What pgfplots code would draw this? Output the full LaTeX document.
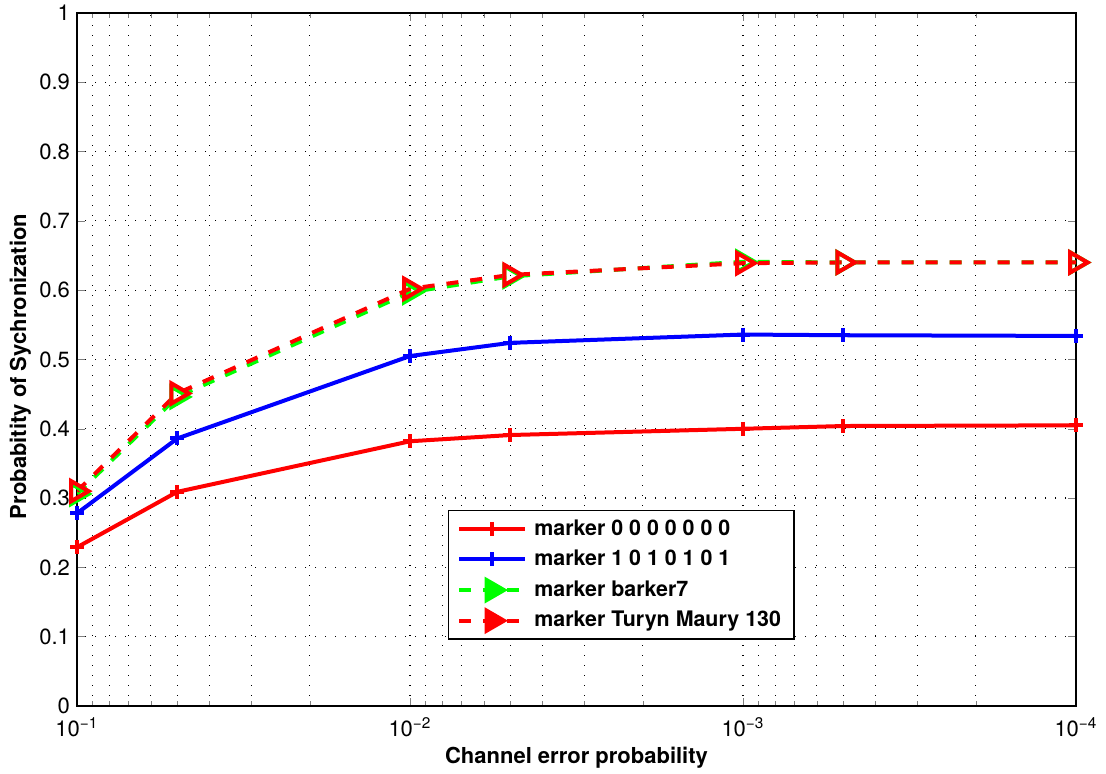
\documentclass[border=0pt]{standalone}
\usepackage{fontspec}
\setmainfont{TeX Gyre Heros}
\usepackage{pgfplots}
\pgfplotsset{compat=1.18}
\definecolor{mred}{rgb}{1,0,0}
\definecolor{mblue}{rgb}{0,0,1}
\definecolor{mgreen}{rgb}{0,1,0}
\begin{document}
\begin{tikzpicture}
\begin{semilogxaxis}[
  scale only axis,
  width=499.5pt, height=346.5pt,
  x dir=reverse,
  xmin=1e-4, xmax=1e-1,
  ymin=0, ymax=1,
  xtick={1e-4,1e-3,1e-2,1e-1},
  xticklabels={10\textsuperscript{−4},10\textsuperscript{−3},10\textsuperscript{−2},10\textsuperscript{−1}},
  ytick={0,0.1,0.2,0.3,0.4,0.5,0.6,0.7,0.8,0.9,1},
  yticklabels={0,0.1,0.2,0.3,0.4,0.5,0.6,0.7,0.8,0.9,1},
  tick align=inside,
  major tick length=4pt,
  minor tick length=2.5pt,
  ticklabel style={font=\fontsize{11}{13}\selectfont},
  xticklabel style={yshift=-2.5pt},
  xmajorgrids, xminorgrids, ymajorgrids,
  grid style={black, line width=0.6pt, dash pattern=on 0.6pt off 4.4pt},
  minor grid style={black, line width=0.6pt, dash pattern=on 0.6pt off 4.4pt},
  axis line style={black, line width=0.7pt},
  xlabel={\textbf{Channel error probability}},
  ylabel={\textbf{Probabitity of Sychronization}},
  label style={font=\fontsize{11}{13}\selectfont},
  xlabel style={at={(axis description cs:0.5,-0.074)}, anchor=center},
  ylabel style={at={(axis description cs:-0.0567,0.49)}, anchor=center},
  legend cell align=left,
  legend style={at={(rel axis cs:0.371,0.283)}, anchor=north west,
    draw=black, line width=0.7pt, fill=white,
    font=\fontsize{10.7}{12.8}\selectfont\bfseries,
    row sep=2pt, inner xsep=4.5pt, inner ysep=2.5pt,
    /tikz/every odd column/.append style={column sep=1.5pt}},
  legend image code/.code={\draw[mark repeat=2,mark phase=2] plot coordinates {(0pt,0pt)(16.5pt,0pt)(33pt,0pt)};},
]
\addplot[mred, line width=2pt, mark=+, mark size=3.5pt] coordinates {
 (0.1,0.229) (0.05,0.309) (0.01,0.382) (0.005,0.391) (0.001,0.400) (0.0005,0.404) (0.0001,0.405)};
\addlegendentry{marker 0 0 0 0 0 0 0}
\addplot[mblue, line width=2pt, mark=+, mark size=3.5pt] coordinates {
 (0.1,0.278) (0.05,0.386) (0.01,0.505) (0.005,0.524) (0.001,0.536) (0.0005,0.535) (0.0001,0.534)};
\addlegendentry{marker 1 0 1 0 1 0 1}
\addplot[mgreen, line width=2pt, dash pattern=on 6pt off 6pt, mark=triangle, mark size=5.8pt,
  mark options={solid, rotate=-90}, forget plot] coordinates {
 (0.1,0.306) (0.05,0.446) (0.01,0.597) (0.005,0.620) (0.001,0.641) (0.0005,0.640) (0.0001,0.640)};
\addplot[mred, line width=2pt, dash pattern=on 6pt off 6pt, mark=triangle, mark size=5.8pt,
  mark options={solid, rotate=-90}, forget plot] coordinates {
 (0.1,0.310) (0.05,0.451) (0.01,0.602) (0.005,0.622) (0.001,0.639) (0.0005,0.640) (0.0001,0.640)};
\addlegendimage{mgreen, line width=2pt, dash pattern=on 6pt off 6pt, mark=triangle*, mark size=5.8pt, mark options={solid, rotate=-90}}
\addlegendentry{marker barker7}
\addlegendimage{mred, line width=2pt, dash pattern=on 6pt off 6pt, mark=triangle*, mark size=5.8pt, mark options={solid, rotate=-90}}
\addlegendentry{marker Turyn Maury 130}
\end{semilogxaxis}
\pgfresetboundingbox
\useasboundingbox (-38.5pt,-34pt) rectangle (514.5pt,353pt);
\end{tikzpicture}
\end{document}
